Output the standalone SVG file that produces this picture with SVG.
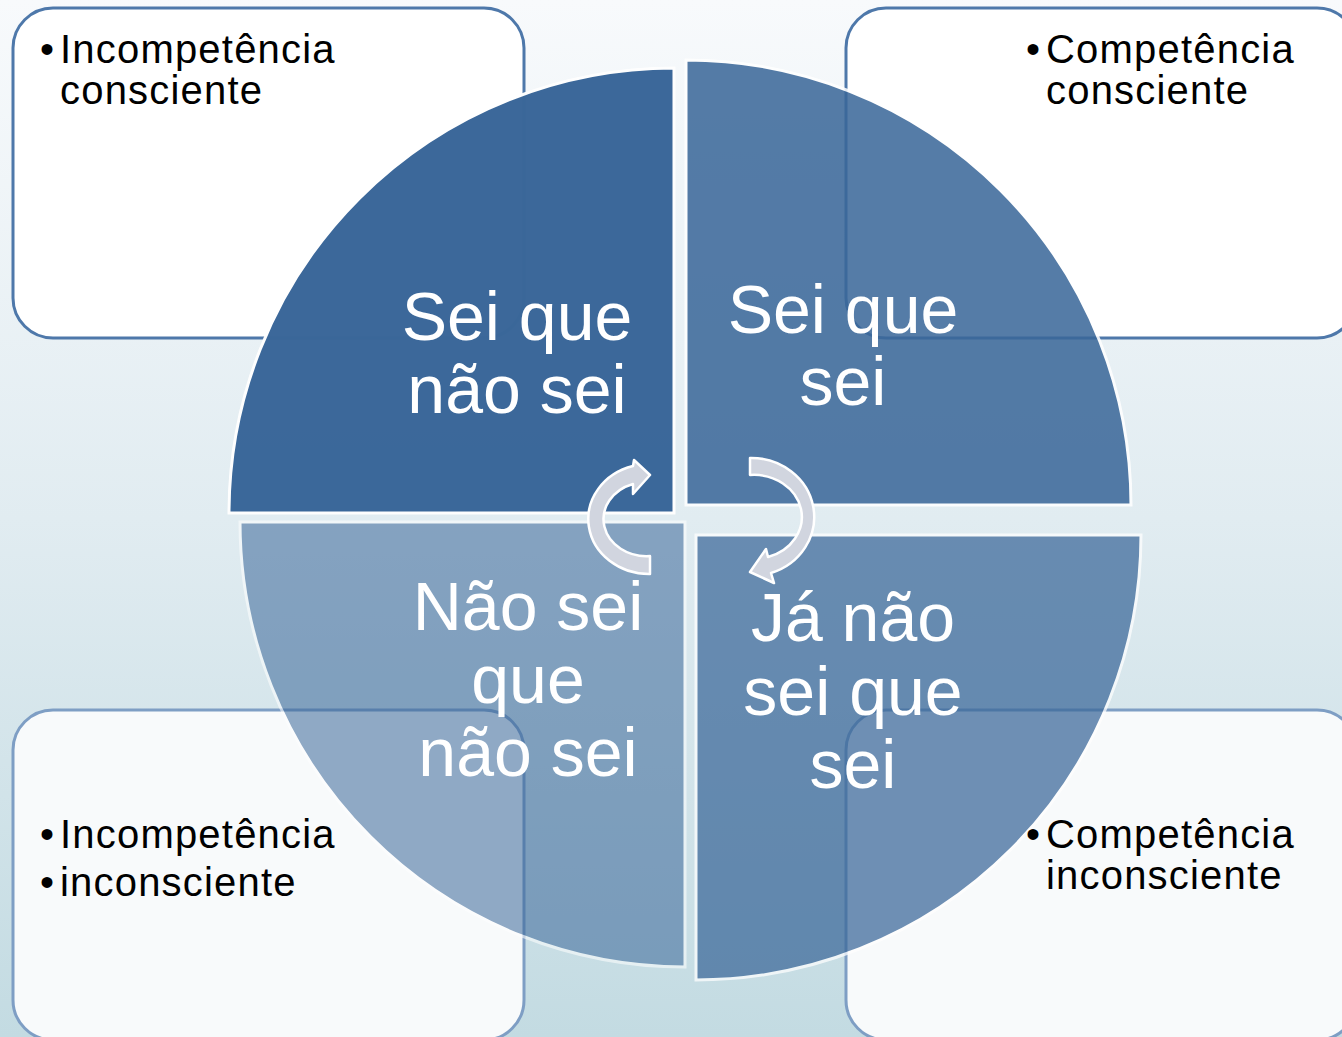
<svg xmlns="http://www.w3.org/2000/svg" width="1342" height="1037" viewBox="0 0 1342 1037">
  <defs>
    <linearGradient id="bg" x1="0" y1="0" x2="0" y2="1">
      <stop offset="0" stop-color="#f8fafc"/>
      <stop offset="0.5" stop-color="#e1ecf1"/>
      <stop offset="1" stop-color="#c3dbe2"/>
    </linearGradient>
  </defs>
  <style>
    .boxTop { fill: #ffffff; stroke: #4e78aa; stroke-width: 3; }
    .boxBot { fill: #f8fafb; stroke: #7e9ec4; stroke-width: 3; }
    .quad { fill: #3a6799; stroke: #ffffff; stroke-width: 3; }
    .qtext { font-family: "Liberation Sans", Arial, sans-serif; font-size: 68px; fill: #ffffff; text-anchor: middle; }
    .btext { font-family: "Liberation Sans", Arial, sans-serif; font-size: 40px; fill: #000000; letter-spacing: 1.2px; }
    .arrow { fill: #d1d5df; stroke: #ffffff; stroke-width: 2.5; stroke-linejoin: round; }
  </style>

  <rect x="0" y="0" width="1342" height="1037" fill="url(#bg)"/>

  <g id="box-tl"><rect class="boxTop" x="13" y="8" width="511" height="330" rx="40"/></g>
  <g id="box-tr"><rect class="boxTop" x="846" y="8" width="511" height="330" rx="40"/></g>
  <g id="box-bl"><rect class="boxBot" x="13" y="710" width="511" height="330" rx="40"/></g>
  <g id="box-br"><rect class="boxBot" x="846" y="710" width="511" height="330" rx="40"/></g>

  <g id="quad-tl">
    <path class="quad" opacity="0.99" d="M674,513 L229,513 A445,445 0 0 1 674,68 Z"/>
  </g>
  <g id="quad-tr">
    <path class="quad" opacity="0.86" d="M686,505 L686,60 A445,445 0 0 1 1131,505 Z"/>
  </g>
  <g id="quad-br">
    <path class="quad" opacity="0.72" d="M696,535 L1141,535 A445,445 0 0 1 696,980 Z"/>
  </g>
  <g id="quad-bl">
    <path class="quad" opacity="0.55" d="M685,522 L685,967 A445,445 0 0 1 240,522 Z"/>
  </g>

  <g id="label-tl" class="btext">
    <text x="40" y="63">•</text>
    <text x="60" y="63">Incompetência</text>
    <text x="60" y="104">consciente</text>
  </g>
  <g id="label-tr" class="btext">
    <text x="1026" y="63">•</text>
    <text x="1046" y="63">Competência</text>
    <text x="1046" y="104">consciente</text>
  </g>
  <g id="label-bl" class="btext">
    <text x="40" y="848">•</text>
    <text x="60" y="848">Incompetência</text>
    <text x="40" y="896">•</text>
    <text x="60" y="896">inconsciente</text>
  </g>
  <g id="label-br" class="btext">
    <text x="1026" y="848">•</text>
    <text x="1046" y="848">Competência</text>
    <text x="1046" y="889">inconsciente</text>
  </g>

  <g id="connectors">
    <path class="arrow" d="M650,574 A61,55 0 0 1 633,466 L634,460 L650,475 L633,494 L633,484 A43,37 0 0 0 650,556 Z"/>
    <path class="arrow" d="M750,458 A63,59 0 0 1 771,573 L774,583 L750,572 L766,549 L768,557 A48,42 0 0 0 750,475 Z"/>
  </g>

  <g id="quad-tl-text" class="qtext">
    <text x="517" y="340">Sei que</text>
    <text x="517" y="413">não sei</text>
  </g>
  <g id="quad-tr-text" class="qtext">
    <text x="843" y="333">Sei que</text>
    <text x="843" y="405">sei</text>
  </g>
  <g id="quad-bl-text" class="qtext">
    <text x="528" y="630">Não sei</text>
    <text x="528" y="703">que</text>
    <text x="528" y="776">não sei</text>
  </g>
  <g id="quad-br-text" class="qtext">
    <text x="853" y="641">Já não</text>
    <text x="853" y="715">sei que</text>
    <text x="853" y="788">sei</text>
  </g>
</svg>
